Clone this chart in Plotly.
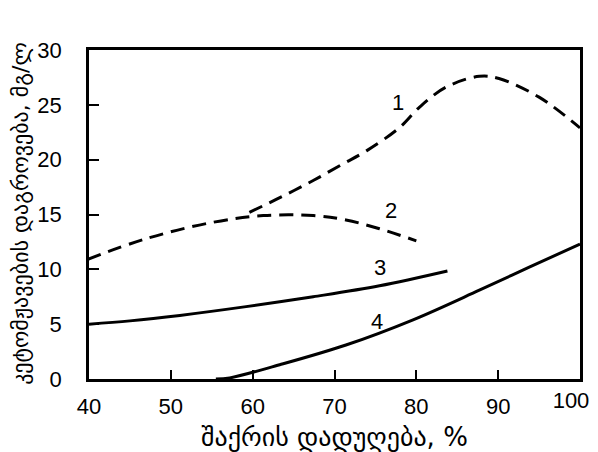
import plotly.graph_objects as go

# Curve 1 (dashed)
x1 = [59.6, 63.5, 67.4, 71.0, 73.9, 77.9, 80.4, 83.6, 87.7, 90.1, 95.0, 100.0]
y1 = [15.2, 16.6, 18.1, 19.6, 20.8, 22.9, 24.8, 26.6, 27.6, 27.4, 25.7, 22.9]
# Curve 2 (dashed)
x2 = [39.8, 47.0, 55.2, 61.3, 67.4, 71.4, 75.5, 80.0]
y2 = [10.9, 12.8, 14.3, 14.9, 14.9, 14.5, 13.7, 12.6]
# Curve 3 (solid)
x3 = [40.0, 45.0, 51.1, 59.2, 67.4, 75.5, 83.8]
y3 = [5.0, 5.3, 5.8, 6.6, 7.5, 8.5, 9.85]
# Curve 4 (solid)
x4 = [55.5, 57.2, 63.3, 71.4, 79.6, 87.7, 93.8, 100.0]
y4 = [0.0, 0.1, 1.3, 3.1, 5.4, 8.1, 10.2, 12.3]

curve_labels = ["1", "2", "3", "4"]
label_x = [77.7, 76.9, 75.5, 75.2]
label_y = [25.2, 15.4, 10.2, 5.2]

x_ticks = [40, 50, 60, 70, 80, 90]
x_last_tick = [100]
y_ticks = [0, 5, 10, 15, 20, 25, 30]

x_title = "შაქრის დადუღება, %"
y_title = "კეტომჟავების დაგროვება, მგ/ლ"

FONT = "Liberation Sans, Arial, DejaVu Sans, sans-serif"
GFONT = "DejaVu Sans, sans-serif"

fig = go.Figure()
dash = "14px,8px"
for xs, ys, d in [(x1, y1, dash), (x2, y2, dash), (x3, y3, "solid"), (x4, y4, "solid")]:
    fig.add_trace(go.Scatter(
        x=xs, y=ys, mode="lines",
        line=dict(color="black", width=3, dash=d, shape="spline", smoothing=1.0),
        showlegend=False, hoverinfo="skip",
    ))
# empty trace carrying the overlay axis used for the last x tick label
fig.add_trace(go.Scatter(x=[None], y=[None], xaxis="x2", mode="lines",
                         showlegend=False, hoverinfo="skip"))

for t, lx, ly in zip(curve_labels, label_x, label_y):
    fig.add_annotation(x=lx, y=ly, text=t, showarrow=False,
                       font=dict(family=FONT, size=22, color="black"))

# axis titles (plot area is 491 x 330 px)
fig.add_annotation(xref="paper", yref="paper", x=0.5, y=-0.176, text=x_title,
                   showarrow=False, yanchor="middle", xanchor="center",
                   font=dict(family=GFONT, size=26, color="black"))
fig.add_annotation(xref="paper", yref="paper", x=-0.1385, y=0.505, text=y_title,
                   showarrow=False, textangle=-90, yanchor="middle", xanchor="center",
                   font=dict(family=GFONT, size=22, color="black"))

# page body has an 8px default margin, so the figure is shifted by 8px
fig.update_layout(
    width=590, height=444,
    margin=dict(l=81, r=18, t=42, b=73),
    paper_bgcolor="white", plot_bgcolor="white",
    font=dict(family=FONT, color="black"),
    xaxis2=dict(
        overlaying="x", anchor="y", side="bottom", range=[40, 100],
        tickvals=x_last_tick, ticktext=[str(v) for v in x_last_tick],
        showgrid=False, zeroline=False, showline=False, ticks="",
        automargin=False, ticklabelshift=-9, ticklabelstandoff=6,
        ticklabeloverflow="allow",
        tickfont=dict(family=FONT, size=22, color="black"),
    ),
)
fig.update_xaxes(
    selector=dict(anchor="y", overlaying=None),
)
fig.layout.xaxis.update(
    range=[40, 100], tickvals=x_ticks + x_last_tick,
    ticktext=[str(v) for v in x_ticks] + [""],
    showgrid=False, zeroline=False, automargin=False,
    showline=True, linecolor="black", linewidth=2.5, mirror=True,
    ticks="inside", ticklen=9, tickwidth=2, tickcolor="black",
    tickfont=dict(family=FONT, size=22, color="black"),
    ticklabelstandoff=6, ticklabeloverflow="allow",
)
fig.update_yaxes(
    range=[0, 30], tickvals=y_ticks, ticktext=[str(v) for v in y_ticks],
    showgrid=False, zeroline=False, automargin=False,
    showline=True, linecolor="black", linewidth=2.5, mirror=True,
    ticks="inside", ticklen=10, tickwidth=2, tickcolor="black",
    tickfont=dict(family=FONT, size=22, color="black"),
    ticklabelstandoff=20, ticklabeloverflow="allow",
)

fig.write_html("out.html")
